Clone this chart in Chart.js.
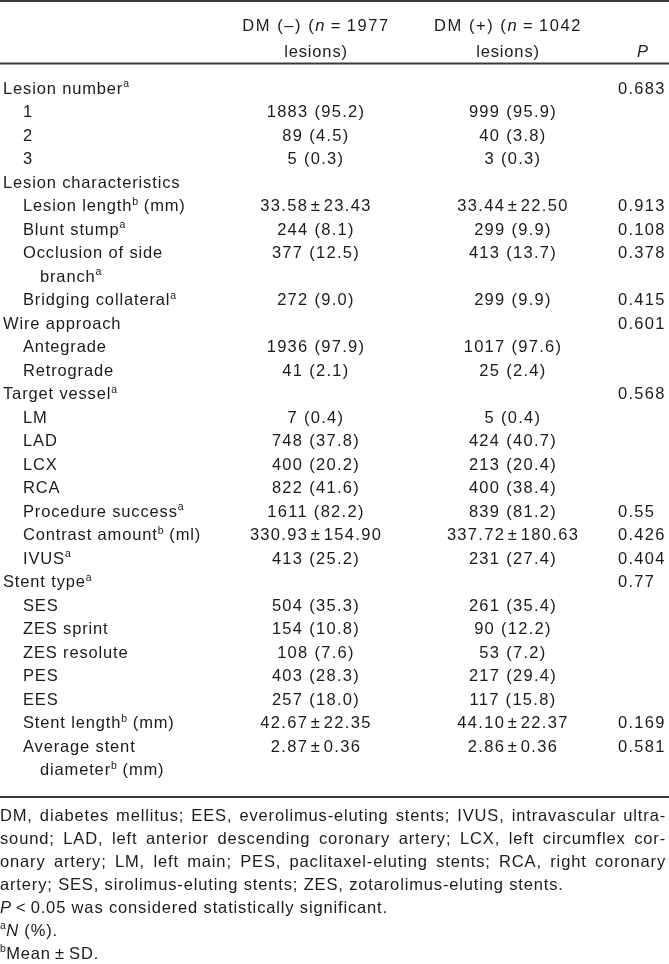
<!DOCTYPE html>
<html>
<head>
<meta charset="utf-8">
<script src="https://cdn.jsdelivr.net/npm/chart.js@4.4.1/dist/chart.umd.min.js"></script>
<style>
  html, body { margin: 0; padding: 0; background: #fff; }
  canvas { display: block; }
</style>
</head>
<body>
<canvas id="tbl" width="669" height="964"></canvas>
<script>
// ---- table contents ( ^x = superscript, *..* = italic ) ----
var headDmNeg = ["DM (\u2013) (*n*\u2009=\u20091977", "lesions)"];
var headDmPos = ["DM (+) (*n*\u2009=\u20091042", "lesions)"];
var headP = ["", "*P*"];

var rowLabels = [
  "Lesion number^a", "1", "2", "3",
  "Lesion characteristics", "Lesion length^b (mm)", "Blunt stump^a",
  "Occlusion of side", "branch^a", "Bridging collateral^a",
  "Wire approach", "Antegrade", "Retrograde",
  "Target vessel^a", "LM", "LAD", "LCX", "RCA",
  "Procedure success^a", "Contrast amount^b (ml)", "IVUS^a",
  "Stent type^a", "SES", "ZES sprint", "ZES resolute", "PES", "EES",
  "Stent length^b (mm)", "Average stent", "diameter^b (mm)"
];
var indentLevel = [0,1,1,1, 0,1,1,1,2,1, 0,1,1, 0,1,1,1,1, 1,1,1, 0,1,1,1,1,1, 1,1,2];

var dmNeg = [
  "", "1883 (95.2)", "89 (4.5)", "5 (0.3)",
  "", "33.58\u200a\u00b1\u200a23.43", "244 (8.1)", "377 (12.5)", "", "272 (9.0)",
  "", "1936 (97.9)", "41 (2.1)",
  "", "7 (0.4)", "748 (37.8)", "400 (20.2)", "822 (41.6)",
  "1611 (82.2)", "330.93\u200a\u00b1\u200a154.90", "413 (25.2)",
  "", "504 (35.3)", "154 (10.8)", "108 (7.6)", "403 (28.3)", "257 (18.0)",
  "42.67\u200a\u00b1\u200a22.35", "2.87\u200a\u00b1\u200a0.36", ""
];
var dmPos = [
  "", "999 (95.9)", "40 (3.8)", "3 (0.3)",
  "", "33.44\u200a\u00b1\u200a22.50", "299 (9.9)", "413 (13.7)", "", "299 (9.9)",
  "", "1017 (97.6)", "25 (2.4)",
  "", "5 (0.4)", "424 (40.7)", "213 (20.4)", "400 (38.4)",
  "839 (81.2)", "337.72\u200a\u00b1\u200a180.63", "231 (27.4)",
  "", "261 (35.4)", "90 (12.2)", "53 (7.2)", "217 (29.4)", "117 (15.8)",
  "44.10\u200a\u00b1\u200a22.37", "2.86\u200a\u00b1\u200a0.36", ""
];
var pValues = [
  "0.683", "", "", "",
  "", "0.913", "0.108", "0.378", "", "0.415",
  "0.601", "", "",
  "0.568", "", "", "", "",
  "0.55", "0.426", "0.404",
  "0.77", "", "", "", "", "",
  "0.169", "0.581", ""
];

var footnotes = [
  "DM, diabetes mellitus; EES, everolimus-eluting stents; IVUS, intravascular ultra-",
  "sound; LAD, left anterior descending coronary artery; LCX, left circumflex cor-",
  "onary artery; LM, left main; PES, paclitaxel-eluting stents; RCA, right coronary",
  "artery; SES, sirolimus-eluting stents; ZES, zotarolimus-eluting stents.",
  "*P*\u2009<\u20090.05 was considered statistically significant.",
  "^a*N* (%).",
  "^bMean\u2009\u00b1\u2009SD."
];
var justified = [true, true, true, false, false, false, false];

// ---- layout (x in px via x scale, y in row units via y scale) ----
var colX = { label: 3, indent1: 23, indent2: 40, dmNeg: 316, dmPos: 513, p: 618, pHead: 643 };
var headRows = [-2.68, -1.57];
var rules = [{ row: -3.70, w: 2 }, { row: -1.04, w: 2 }, { row: 30.17, w: 2 }];
var footStart = 30.94, footStep = 0.979;
var FONT = '"Liberation Sans", Arial, Helvetica, sans-serif';
var SIZE = 16.5;
var INK = '#1c1a1a';
var LS_LABEL = 0.85, LS_NUM = 1.3, LS_FOOT = 0.85, LS_HEAD = 1.55;

function parseRich(s) {
  var segs = [], it = false, buf = '';
  for (var i = 0; i < s.length; i++) {
    var c = s[i];
    if (c === '*') { if (buf) segs.push({ t: buf, it: it }); buf = ''; it = !it; }
    else if (c === '^') { if (buf) segs.push({ t: buf, it: it }); buf = ''; segs.push({ t: s[i + 1], sup: true }); i++; }
    else buf += c;
  }
  if (buf) segs.push({ t: buf, it: it });
  return segs;
}

function setSeg(ctx, seg, ls) {
  ctx.font = (seg.it ? 'italic ' : '') + (seg.sup ? '10.5px ' : SIZE + 'px ') + FONT;
  ctx.letterSpacing = (seg.sup ? 0.3 : ls) + 'px';
}

function richWidth(ctx, segs, ls) {
  var w = 0;
  segs.forEach(function (sg) { setSeg(ctx, sg, ls); w += ctx.measureText(sg.t).width; });
  return w;
}

function drawRich(ctx, s, x, yMid, align, ls) {
  if (!s) return;
  var segs = parseRich(s);
  var w = richWidth(ctx, segs, ls);
  var cx = align === 'center' ? x - w / 2 : (align === 'right' ? x - w : x);
  var base = yMid + 5.8;
  segs.forEach(function (sg) {
    setSeg(ctx, sg, ls);
    ctx.fillText(sg.t, cx, sg.sup ? base - 6.5 : base);
    cx += ctx.measureText(sg.t).width;
  });
}

function drawJustified(ctx, s, x0, x1, yMid, ls) {
  var words = s.split(' ');
  ctx.font = SIZE + 'px ' + FONT;
  ctx.letterSpacing = ls + 'px';
  var sum = 0;
  words.forEach(function (w) { sum += ctx.measureText(w).width; });
  var gap = (x1 - x0 - sum) / (words.length - 1);
  var cx = x0;
  words.forEach(function (w) {
    ctx.fillText(w, cx, yMid + 5.8);
    cx += ctx.measureText(w).width + gap;
  });
}

var tablePlugin = {
  id: 'tableText',
  afterDraw: function (chart) {
    var ctx = chart.ctx, xs = chart.scales.x, ys = chart.scales.y;
    var X = function (v) { return xs.getPixelForValue(v); };
    var Y = function (v) { return ys.getPixelForValue(v); };
    ctx.save();
    ctx.fillStyle = INK;
    ctx.textBaseline = 'alphabetic';
    ctx.textAlign = 'left';

    // rules
    ctx.strokeStyle = '#3a3a3a';
    rules.forEach(function (r) {
      ctx.lineWidth = r.w;
      ctx.beginPath();
      ctx.moveTo(X(0), Y(r.row));
      ctx.lineTo(X(669), Y(r.row));
      ctx.stroke();
    });

    // header
    for (var h = 0; h < 2; h++) {
      var ls = h === 0 ? LS_HEAD : LS_LABEL;
      drawRich(ctx, headDmNeg[h], X(colX.dmNeg), Y(headRows[h]), 'center', ls);
      drawRich(ctx, headDmPos[h], X(colX.dmPos - 5), Y(headRows[h]), 'center', ls);
      drawRich(ctx, headP[h], X(colX.pHead), Y(headRows[h]), 'center', LS_LABEL);
    }

    // body rows
    rowLabels.forEach(function (lab, i) {
      var lx = [colX.label, colX.indent1, colX.indent2][indentLevel[i]];
      drawRich(ctx, lab, X(lx), Y(i), 'left', LS_LABEL);
      drawRich(ctx, dmNeg[i], X(colX.dmNeg), Y(i), 'center', LS_NUM);
      drawRich(ctx, dmPos[i], X(colX.dmPos), Y(i), 'center', LS_NUM);
      drawRich(ctx, pValues[i], X(colX.p), Y(i), 'left', LS_NUM);
    });

    // footnotes
    footnotes.forEach(function (f, k) {
      var yy = Y(footStart + k * footStep);
      if (justified[k]) drawJustified(ctx, f, X(0), X(666), yy, LS_FOOT);
      else drawRich(ctx, f, X(0), yy, 'left', LS_FOOT);
    });
    ctx.restore();
  }
};

new Chart(document.getElementById('tbl'), {
  type: 'scatter',
  data: { datasets: [] },
  options: {
    responsive: false,
    animation: false,
    devicePixelRatio: 1,
    layout: { padding: 0 },
    plugins: { legend: { display: false }, tooltip: { enabled: false } },
    scales: {
      x: { type: 'linear', min: 0, max: 669, display: false },
      y: { type: 'linear', min: -3.745, max: 37.277, reverse: true, display: false }
    }
  },
  plugins: [tablePlugin]
});
</script>
</body>
</html>
